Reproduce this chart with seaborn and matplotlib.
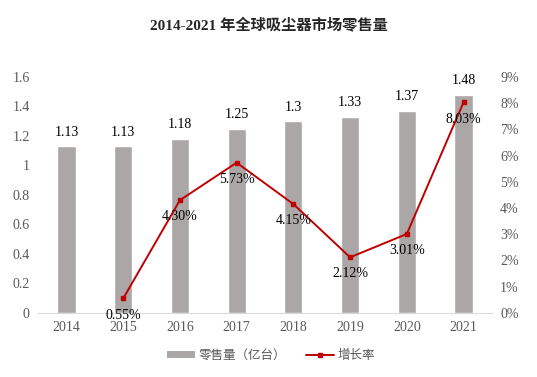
import matplotlib
matplotlib.use('Agg')
import matplotlib.pyplot as plt
import numpy as np
import pandas as pd
import seaborn as sns
from matplotlib.lines import Line2D
from matplotlib.patches import Patch

#%% Data
years = ['2014', '2015', '2016', '2017', '2018', '2019', '2020', '2021']
sales = [1.13, 1.13, 1.18, 1.25, 1.3, 1.33, 1.37, 1.48]
growth = [np.nan, 0.55, 4.30, 5.73, 4.15, 2.12, 3.01, 8.03]
growth_labels = ['', '0.55%', '4.30%', '5.73%', '4.15%', '2.12%', '3.01%', '8.03%']

BAR_COLOR = '#ABA7A7'
LINE_COLOR = '#C00000'
TICK_COLOR = '#595959'

sns.set_style('white')
plt.rcParams['font.family'] = ['Liberation Serif', 'Noto Sans CJK SC']

df = pd.DataFrame({'year': years, 'sales': sales, 'growth': growth})

#%% Plot
fig = plt.figure(figsize=(5.37, 3.77), dpi=100)
ax = fig.add_axes([0.071, 0.170, 0.845, 0.626])

sns.barplot(data=df, x='year', y='sales', color=BAR_COLOR, width=0.32,
            saturation=1, ax=ax)
ax.set_ylim(0, 1.6)
ax.set_yticks(np.arange(0, 1.61, 0.2))
ax.set_yticklabels(['0', '0.2', '0.4', '0.6', '0.8', '1', '1.2', '1.4', '1.6'])
ax.set_xlim(-0.5, len(years) - 0.5)
ax.set_xlabel('')
ax.set_ylabel('')
ax.tick_params(axis='both', length=0, labelsize=10, colors=TICK_COLOR, pad=6)
for side in ['top', 'left', 'right']:
    ax.spines[side].set_visible(False)
ax.spines['bottom'].set_color('#D9D9D9')

# bar labels
for i, v in enumerate(df['sales']):
    ax.annotate(f'{v:g}', (i, v), xytext=(0, 10), textcoords='offset points',
                ha='center', va='center', fontsize=10, color='black')

# growth line on secondary axis
ax2 = ax.twinx()
x_pos = np.arange(len(years))
ax2.plot(x_pos, df['growth'], color=LINE_COLOR, linewidth=1.4,
         marker='s', markersize=3.5)
ax2.set_ylim(0, 9)
ax2.set_yticks(range(0, 10))
ax2.set_yticklabels([f'{t}%' for t in range(0, 10)])
ax2.tick_params(axis='y', length=0, labelsize=10, colors=TICK_COLOR, pad=6)
for side in ['top', 'left', 'right', 'bottom']:
    ax2.spines[side].set_visible(False)

for i, (g, lab) in enumerate(zip(df['growth'], growth_labels)):
    if lab:
        ax2.annotate(lab, (i, g), xytext=(0, -12), textcoords='offset points',
                     ha='center', va='center', fontsize=10, color='black')

fig.suptitle('2014-2021 年全球吸尘器市场零售量', x=0.5, y=0.955,
             fontsize=11, fontweight='bold')

handles = [Patch(facecolor=BAR_COLOR, edgecolor='none'),
           Line2D([], [], color=LINE_COLOR, linewidth=1.4, marker='s', markersize=3)]
fig.legend(handles, ['零售量（亿台）', '增长率'], loc='center', bbox_to_anchor=(0.505, 0.055),
           ncol=2, frameon=False, fontsize=9, handlelength=2.2, handleheight=0.5,
           handletextpad=0.3, columnspacing=1.6, labelcolor=TICK_COLOR)

fig.savefig('out.png', dpi=100)
